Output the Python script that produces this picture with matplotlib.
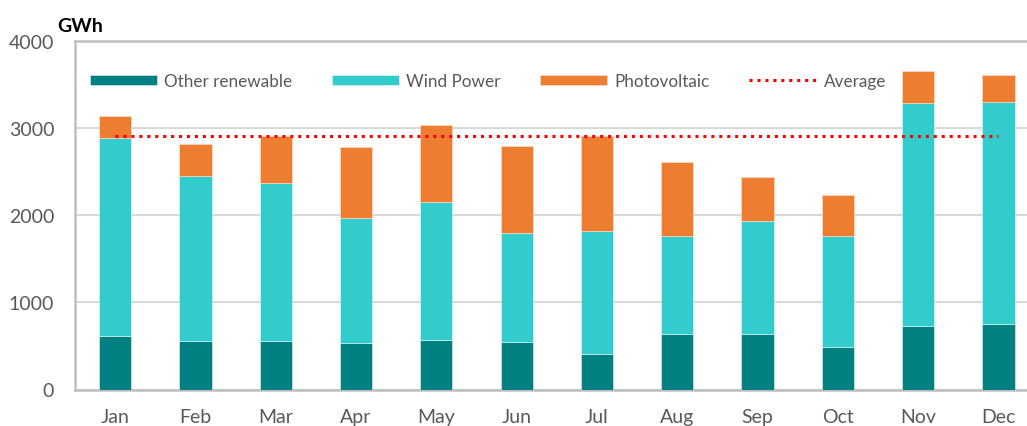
import numpy as np
import matplotlib.pyplot as plt

# monthly renewable generation (GWh)
months = ['Jan', 'Feb', 'Mar', 'Apr', 'May', 'Jun', 'Jul', 'Aug', 'Sep', 'Oct', 'Nov', 'Dec']
other_renewable = [611, 560, 560, 537, 572, 549, 408, 637, 637, 488, 733, 752]
wind_power = [2273, 1888, 1807, 1435, 1577, 1248, 1408, 1122, 1294, 1271, 2553, 2549]
photovoltaic = [259, 374, 543, 816, 884, 1002, 1098, 856, 512, 471, 371, 310]

plt.rcParams['font.family'] = ['Lato', 'DejaVu Sans']

other = np.array(other_renewable)
wind = np.array(wind_power)
pv = np.array(photovoltaic)
total = other + wind + pv
average = total.mean()

x = np.arange(len(months))

fig = plt.figure(figsize=(10.27, 4.27), dpi=100)
ax = fig.add_axes([75 / 1027, 1 - 390.5 / 427, 963.6 / 1027, 348.5 / 427])

w = 0.4
b1 = ax.bar(x, other, w, color='#008080', edgecolor='#e6f2f2', linewidth=0.4, zorder=3)
b2 = ax.bar(x, wind, w, bottom=other, color='#33CCCC', edgecolor='#e6f8f8', linewidth=0.4, zorder=3)
b3 = ax.bar(x, pv, w, bottom=other + wind, color='#ED7D31', edgecolor='#fbe3d4', linewidth=0.4, zorder=3)
avg_line, = ax.plot([x[0], x[-1]], [average, average], color='#FF0000', linestyle=(0, (1, 1.6)),
                    linewidth=2.2, zorder=4)

ax.set_xlim(-0.5, 11.5)
ax.set_ylim(0, 4000)
ax.set_yticks([0, 1000, 2000, 3000, 4000])
ax.set_xticks(x)
ax.set_xticklabels(months)
ax.tick_params(axis='both', length=0, labelsize=14, labelcolor='#595959')
ax.tick_params(axis='y', pad=15)
ax.tick_params(axis='x', pad=13)

ax.grid(axis='y', color='#d9d9d9', linewidth=1.5, zorder=0)
for side in ['left', 'top', 'bottom']:
    ax.spines[side].set_color('#bfbfbf')
    ax.spines[side].set_linewidth(1.8)
ax.spines['right'].set_visible(False)

fig.text(57 / 1027, 1 - 27 / 427, 'GWh', fontsize=14, fontweight='bold', color='black', va='center')

ax.legend([b1, b2, b3, avg_line], ['Other renewable', 'Wind Power', 'Photovoltaic', 'Average'],
          loc='center left', bbox_to_anchor=(15 / 963.6, 0.885), ncol=4, frameon=False,
          borderaxespad=0, borderpad=0, fontsize=12.3, handlelength=3.9, handleheight=0.55,
          columnspacing=2.3, handletextpad=0.46, labelcolor='#595959')

fig.savefig('out.png', dpi=100)
